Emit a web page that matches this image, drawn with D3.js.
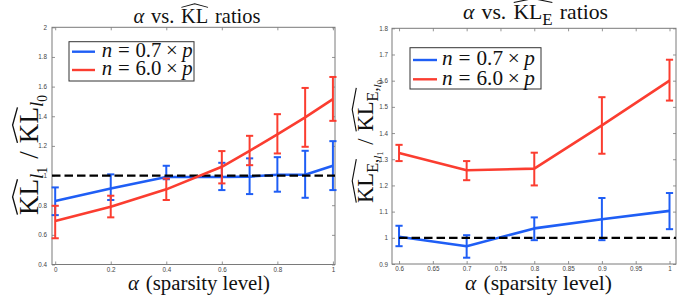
<!DOCTYPE html>
<html><head><meta charset="utf-8">
<script src="https://cdn.jsdelivr.net/npm/d3@7"></script>
<style>html,body{margin:0;padding:0;background:#fff;} svg{display:block}</style>
</head><body>
<svg id="c" width="699" height="303"></svg>
<script>
// ---------- data ----------
const alphaL = [0, 0.2, 0.4, 0.6, 0.7, 0.8, 0.9, 1];
const blueMeanL = [0.828, 0.913, 0.99, 0.99, 0.993, 1.005, 1.005, 1.066];
const blueLowL  = [0.733, 0.835, 0.975, 0.902, 0.875, 0.891, 0.85, 0.902];
const blueHighL = [0.92, 1.008, 1.066, 1.086, 1.116, 1.124, 1.167, 1.232];
const redMeanL  = [0.693, 0.79, 0.907, 1.059, 1.167, 1.277, 1.392, 1.515];
const redLowL   = [0.577, 0.718, 0.835, 0.947, 1.07, 1.149, 1.194, 1.369];
const redHighL  = [0.796, 0.864, 0.98, 1.165, 1.268, 1.414, 1.591, 1.665];

const alphaR = [0.6, 0.7, 0.8, 0.9, 1];
const blueMeanR = [1.004, 0.968, 1.036, 1.071, 1.103];
const blueLowR  = [0.968, 0.924, 0.991, 0.991, 1.033];
const blueHighR = [1.046, 1.01, 1.078, 1.152, 1.171];
const redMeanR  = [1.3235, 1.258, 1.264, 1.429, 1.600];
const redLowR   = [1.293, 1.22, 1.20, 1.321, 1.524];
const redHighR  = [1.355, 1.293, 1.325, 1.537, 1.68];

const xTicksL = [0, 0.2, 0.4, 0.6, 0.8, 1];
const xTickLabelsL = ["0", "0.2", "0.4", "0.6", "0.8", "1"];
const yTicksL = [0.4, 0.6, 0.8, 1, 1.2, 1.4, 1.6, 1.8, 2];
const yTickLabelsL = ["0.4", "0.6", "0.8", "1", "1.2", "1.4", "1.6", "1.8", "2"];
const xTicksR = [0.6, 0.65, 0.7, 0.75, 0.8, 0.85, 0.9, 0.95, 1];
const xTickLabelsR = ["0.6", "0.65", "0.7", "0.75", "0.8", "0.85", "0.9", "0.95", "1"];
const yTicksR = [0.9, 1, 1.1, 1.2, 1.3, 1.4, 1.5, 1.6, 1.7, 1.8];
const yTickLabelsR = ["0.9", "1", "1.1", "1.2", "1.3", "1.4", "1.5", "1.6", "1.7", "1.8"];
const seriesFactors = ["0.7", "6.0"];   // legend: n = factor × p
const referenceLevel = 1;

// ---------- style ----------
const BLUE = "#1f5ef5", RED = "#fb3d30", AX = "#7a7a7a";
const SERIF = '"Liberation Serif", "Times New Roman", serif';
const SANS = '"Liberation Sans", Arial, sans-serif';
const svg = d3.select("#c");

function mathLabel(parent, segs, hats, o) {
  const g = parent.append("g").attr("fill", "#111");
  function build(size) {
    g.selectAll("*").remove();
    const inner = g.append("g");
    let cx = 0; const pl = [];
    segs.forEach(s => {
      cx += (s.gap || 0) * size;
      const fs = size * (s.s || 1), dy = (s.dy || 0) * size;
      const t = inner.append("text").attr("x", cx).attr("y", dy)
        .style("font-family", SERIF).style("font-size", fs + "px")
        .style("font-style", s.it ? "italic" : "normal").text(s.t);
      const w = t.node().getComputedTextLength();
      pl.push({ x0: cx, x1: cx + w });
      cx += w;
    });
    hats.forEach(([i, j]) => {
      const a = pl[i].x0 + 0.3, b = pl[j].x1 - 0.3, m = (a + b) / 2;
      inner.append("path")
        .attr("d", `M${a},${-0.74 * size}L${m},${-0.92 * size}L${b},${-0.74 * size}`)
        .attr("fill", "none").attr("stroke", "#111").attr("stroke-width", Math.max(0.8, size * 0.05));
    });
    return { inner, width: cx };
  }
  let r = build(o.size);
  if (o.width) r = build(o.size * o.width / r.width);
  const ax = o.anchor === "start" ? 0 : -r.width / 2;
  r.inner.attr("transform", `translate(${ax},0)`);
  g.attr("transform", `translate(${o.x},${o.y})` + (o.rotate ? ` rotate(${o.rotate})` : ""));
}

function panel(c) {
  const x = d3.scaleLinear().domain(c.xDomain).range(c.xRange);
  const y = d3.scaleLinear().domain(c.yDomain).range(c.yRange);
  const g = svg.append("g");
  const [x0, x1] = c.xRange, [yb, yt] = c.yRange;

  const styleAxis = sel => {
    sel.select(".domain").remove();
    sel.selectAll(".tick line").attr("stroke", AX).attr("stroke-width", 0.8);
    sel.selectAll(".tick text").attr("fill", "#444").style("font-family", SANS).style("font-size", "6.3px");
  };
  g.append("g").attr("transform", `translate(0,${yb})`)
    .call(d3.axisBottom(x).tickValues(c.xTicks).tickFormat((d, i) => c.xLabels[i]).tickSize(-3).tickPadding(3)).call(styleAxis);
  g.append("g").attr("transform", `translate(0,${yt})`)
    .call(d3.axisTop(x).tickValues(c.xTicks).tickFormat("").tickSize(-3)).call(styleAxis);
  g.append("g").attr("transform", `translate(${x0},0)`)
    .call(d3.axisLeft(y).tickValues(c.yTicks).tickFormat((d, i) => c.yLabels[i]).tickSize(-3).tickPadding(c.yPad)).call(styleAxis);
  g.append("g").attr("transform", `translate(${x1},0)`)
    .call(d3.axisRight(y).tickValues(c.yTicks).tickFormat("").tickSize(-3)).call(styleAxis);
  g.selectAll(".tick text").filter(function () { return this.textContent === ""; }).remove();
  g.append("rect").attr("x", x0).attr("y", yt).attr("width", x1 - x0).attr("height", yb - yt)
    .attr("fill", "none").attr("stroke", AX).attr("stroke-width", 1);

  const line = d3.line().x(d => x(d.a)).y(d => y(d.m));
  function series(alpha, mean, low, high, color) {
    const pts = alpha.map((a, i) => ({ a, m: mean[i], lo: low[i], hi: high[i] }));
    const s = g.append("g").attr("stroke", color).attr("fill", "none");
    s.append("path").attr("d", line(pts)).attr("stroke-width", 2.6).attr("stroke-linejoin", "round");
    pts.forEach(p => {
      const px = x(p.a);
      s.append("line").attr("x1", px).attr("x2", px).attr("y1", y(p.lo)).attr("y2", y(p.hi)).attr("stroke-width", 2);
      [p.lo, p.hi].forEach(v => s.append("line").attr("x1", px - 3.6).attr("x2", px + 3.6).attr("y1", y(v)).attr("y2", y(v)).attr("stroke-width", 2));
    });
  }
  series(c.alpha, c.blue[0], c.blue[1], c.blue[2], BLUE);
  g.append("line").attr("x1", x(c.dashFrom)).attr("x2", x(c.xDomain[1])).attr("y1", y(referenceLevel)).attr("y2", y(referenceLevel))
    .attr("stroke", "#000").attr("stroke-width", 2.2).attr("stroke-dasharray", "8.5,4");
  series(c.alpha, c.red[0], c.red[1], c.red[2], RED);

  const L = c.legend;
  g.append("rect").attr("x", L.box[0]).attr("y", L.box[1]).attr("width", L.box[2]).attr("height", L.box[3])
    .attr("fill", "#fff").attr("stroke", "#333").attr("stroke-width", 1);
  [BLUE, RED].forEach((col, i) => {
    g.append("line").attr("x1", L.lineX[0]).attr("x2", L.lineX[1]).attr("y1", L.rowY[i]).attr("y2", L.rowY[i])
      .attr("stroke", col).attr("stroke-width", 2.4);
    mathLabel(g, [{ t: "n", it: 1 }, { t: "=", gap: 0.28 }, { t: seriesFactors[i], gap: 0.28 }, { t: "×", gap: 0.22 }, { t: "p", it: 1, gap: 0.22 }], [],
      { x: L.textX, y: L.rowY[i] + 5.3, size: 16, width: L.textW, anchor: "start" });
  });

  mathLabel(g, c.title.segs, c.title.hats, c.title.o);
  mathLabel(g, [{ t: "α", it: 1 }, { t: "(sparsity level)", gap: 0.33 }], [], c.xlabel);
  mathLabel(g, c.ylabel.segs, c.ylabel.hats, c.ylabel.o);
}

panel({
  xDomain: [-0.0115, 1.0075], xRange: [52, 335],
  yDomain: [0.4, 2], yRange: [264.5, 27.3],
  xTicks: xTicksL, xLabels: xTickLabelsL, yTicks: yTicksL, yLabels: yTickLabelsL, yPad: 5,
  alpha: alphaL, blue: [blueMeanL, blueLowL, blueHighL], red: [redMeanL, redLowL, redHighL],
  dashFrom: -0.0115,
  legend: { box: [69, 41.7, 125, 39.3], lineX: [72, 95], rowY: [51.7, 70], textX: 101.7, textW: 91 },
  title: { segs: [{ t: "α", it: 1 }, { t: "vs.", gap: 0.33 }, { t: "KL", gap: 0.33 }, { t: "ratios", gap: 0.33 }], hats: [[2, 2]],
           o: { x: 197, y: 22.5, size: 17, width: 127 } },
  xlabel: { x: 199, y: 290, size: 17, width: 142 },
  ylabel: { segs: [{ t: "KL" }, { t: "l", it: 1, s: 0.7, dy: 0.22 }, { t: "1", s: 0.5, dy: 0.36 }, { t: "/", gap: 0.3 },
                   { t: "KL", gap: 0.3 }, { t: "l", it: 1, s: 0.7, dy: 0.22 }, { t: "0", s: 0.5, dy: 0.36 }],
            hats: [[0, 0], [4, 4]], o: { x: 37.5, y: 155, size: 17, width: 120, rotate: -90 } }
});

panel({
  xDomain: [0.5896, 1.0096], xRange: [392, 676],
  yDomain: [0.9, 1.8], yRange: [264, 28.3],
  xTicks: xTicksR, xLabels: xTickLabelsR, yTicks: yTicksR, yLabels: yTickLabelsR, yPad: 4,
  alpha: alphaR, blue: [blueMeanR, blueLowR, blueHighR], red: [redMeanR, redLowR, redHighR],
  dashFrom: 0.6,
  legend: { box: [410, 47.7, 131, 41.3], lineX: [413, 437], rowY: [60, 79.3], textX: 442, textW: 93 },
  title: { segs: [{ t: "α", it: 1 }, { t: "vs.", gap: 0.33 }, { t: "KL", gap: 0.33 }, { t: "E", s: 0.78, dy: 0.3 }, { t: "ratios", gap: 0.33 }], hats: [[2, 3]],
           o: { x: 535.5, y: 18.5, size: 17, width: 145 } },
  xlabel: { x: 538.5, y: 290, size: 17, width: 147 },
  ylabel: { segs: [{ t: "KL" }, { t: "E,", s: 0.72, dy: 0.22 }, { t: "l", it: 1, s: 0.5, dy: 0.36 }, { t: "1", s: 0.38, dy: 0.45 }, { t: "/", gap: 0.3 },
                   { t: "KL", gap: 0.3 }, { t: "E,", s: 0.72, dy: 0.22 }, { t: "l", it: 1, s: 0.5, dy: 0.36 }, { t: "0", s: 0.38, dy: 0.45 }],
            hats: [[0, 1], [5, 6]], o: { x: 373, y: 141.5, size: 17, width: 123, rotate: -90 } }
});
</script>
</body></html>
